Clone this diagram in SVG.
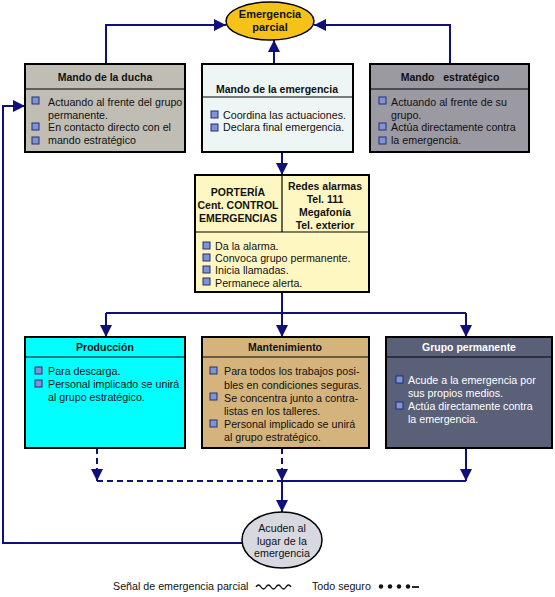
<svg xmlns="http://www.w3.org/2000/svg" width="555" height="597" viewBox="0 0 555 597">
<style>
text{font-family:"Liberation Sans",Arial,sans-serif;font-size:10.7px;fill:#111}
.t{font-weight:bold;text-anchor:middle;font-size:10.5px}
.e{font-size:11px}
.w{fill:#fff}
.box{stroke:#000;stroke-width:2}
.hl{stroke:#000;stroke-width:1.2}
.c{fill:none;stroke:#10107a;stroke-width:2}
.d{stroke-dasharray:6,4}
.b{fill:#7b96d6;stroke:#2a2a70;stroke-width:1}
</style>
<defs>
<marker id="a" markerUnits="userSpaceOnUse" markerWidth="12" markerHeight="12" viewBox="0 0 12 12" refX="12" refY="6" orient="auto">
<path d="M0,0 L12,6 L0,12 z" fill="#10107a"/>
</marker>
</defs>
<rect width="555" height="597" fill="#fff"/>
<g id="connectors">
<path class="c" d="M106,64 V25 H226" marker-end="url(#a)"/>
<path class="c" d="M450,64 V25 H314" marker-end="url(#a)"/>
<path class="c" d="M274,64 V40" marker-end="url(#a)"/>
<path class="c" d="M282,152 V175" marker-end="url(#a)"/>
<path class="c" d="M282,292 V313 M106,313 H466"/>
<path class="c" d="M106,313 V337" marker-end="url(#a)"/>
<path class="c" d="M282,313 V337" marker-end="url(#a)"/>
<path class="c" d="M466,313 V337" marker-end="url(#a)"/>
<path class="c d" d="M97,448 V481" marker-end="url(#a)"/>
<path class="c d" d="M282,448 V481" marker-end="url(#a)"/>
<path class="c" d="M466,448 V481" marker-end="url(#a)"/>
<path class="c d" d="M97,481 H282"/>
<path class="c" d="M282,481 H466"/>
<path class="c" d="M282,481 V512" marker-end="url(#a)"/>
<path class="c" d="M242,543 H3 V106 H25" marker-end="url(#a)"/>
</g>
<g id="emergencia-parcial">
<ellipse cx="270" cy="21" rx="44" ry="19" fill="#f6c21a" stroke="#000" stroke-width="1.5"/>
<text class="t e" x="270" y="18">Emergencia</text>
<text class="t e" x="270" y="31">parcial</text>
</g>
<g id="mando-ducha">
<rect class="box" x="25" y="64" width="160" height="88" fill="#c0bdb5"/>
<line class="hl" x1="25" y1="89" x2="185" y2="89"/>
<text class="t" x="105" y="81">Mando de la ducha</text>
<rect class="b" x="32" y="97" width="7" height="7"/><text x="48" y="106">Actuando al frente del grupo</text>
<text x="48" y="119">permanente.</text>
<rect class="b" x="32" y="123" width="7" height="7"/><text x="48" y="131">En contacto directo con el</text>
<rect class="b" x="32" y="137" width="7" height="7"/><text x="48" y="144">mando estratégico</text>
</g>
<g id="mando-emergencia">
<rect class="box" x="202" y="64" width="151" height="88" fill="#eef5f5"/>
<line class="hl" x1="202" y1="97" x2="353" y2="97"/>
<text class="t" x="277" y="93">Mando de la emergencia</text>
<rect class="b" x="211" y="111" width="7" height="7"/><text x="223" y="119">Coordina las actuaciones.</text>
<rect class="b" x="211" y="124" width="7" height="7"/><text x="223" y="131">Declara final emergencia.</text>
</g>
<g id="mando-estrategico">
<rect class="box" x="370" y="64" width="159" height="88" fill="#9b99a1"/>
<line class="hl" x1="370" y1="89" x2="529" y2="89"/>
<text class="t" x="450" y="81" xml:space="preserve">Mando   estratégico</text>
<rect class="b" x="379" y="97" width="7" height="7"/><text x="391" y="106">Actuando al frente de su</text>
<text x="391" y="119">grupo.</text>
<rect class="b" x="379" y="123" width="7" height="7"/><text x="391" y="131">Actúa directamente contra</text>
<rect class="b" x="379" y="137" width="7" height="7"/><text x="391" y="144">la emergencia.</text>
</g>
<g id="porteria">
<rect class="box" x="195" y="175" width="174" height="117" fill="#fff7c2"/>
<line class="hl" x1="195" y1="232" x2="369" y2="232"/>
<line class="hl" x1="282" y1="175" x2="282" y2="232"/>
<text class="t" x="238" y="196">PORTERÍA</text>
<text class="t" x="238" y="209">Cent. CONTROL</text>
<text class="t" x="238" y="222">EMERGENCIAS</text>
<text class="t" x="325" y="190">Redes alarmas</text>
<text class="t" x="325" y="203">Tel. 111</text>
<text class="t" x="325" y="216">Megafonía</text>
<text class="t" x="325" y="229">Tel. exterior</text>
<rect class="b" x="203" y="242" width="7" height="7"/><text x="215" y="250">Da la alarma.</text>
<rect class="b" x="203" y="254" width="7" height="7"/><text x="215" y="262">Convoca grupo permanente.</text>
<rect class="b" x="203" y="266" width="7" height="7"/><text x="215" y="274">Inicia llamadas.</text>
<rect class="b" x="203" y="278" width="7" height="7"/><text x="215" y="287">Permanece alerta.</text>
</g>
<g id="produccion">
<rect class="box" x="25" y="337" width="160" height="111" fill="#00ffff"/>
<line class="hl" x1="25" y1="357" x2="185" y2="357"/>
<text class="t" x="105" y="351">Producción</text>
<rect class="b" x="35" y="367" width="7" height="7"/><text x="48" y="375">Para descarga.</text>
<rect class="b" x="35" y="380" width="7" height="7"/><text x="48" y="388">Personal implicado se unirá</text>
<text x="48" y="401">al grupo estratégico.</text>
</g>
<g id="mantenimiento">
<rect class="box" x="202" y="337" width="167" height="111" fill="#d4b47c"/>
<line class="hl" x1="202" y1="357" x2="369" y2="357"/>
<text class="t" x="285" y="351">Mantenimiento</text>
<rect class="b" x="210" y="367" width="7" height="7"/><text x="224" y="375">Para todos los trabajos posi-</text>
<text x="224" y="389">bles en condiciones seguras.</text>
<rect class="b" x="210" y="393" width="7" height="7"/><text x="224" y="402">Se concentra junto a contra-</text>
<text x="224" y="415">listas en los talleres.</text>
<rect class="b" x="210" y="420" width="7" height="7"/><text x="224" y="428">Personal implicado se unirá</text>
<text x="224" y="441">al grupo estratégico.</text>
</g>
<g id="grupo-permanente">
<rect class="box" x="386" y="337" width="166" height="111" fill="#5a6078"/>
<line class="hl" x1="386" y1="357" x2="552" y2="357"/>
<text class="t w" x="469" y="351">Grupo permanente</text>
<rect class="b" x="396" y="376" width="7" height="7"/><text class="w" x="408" y="384">Acude a la emergencia por</text>
<text class="w" x="408" y="397">sus propios medios.</text>
<rect class="b" x="396" y="402" width="7" height="7"/><text class="w" x="408" y="410">Actúa directamente contra</text>
<text class="w" x="408" y="423">la emergencia.</text>
</g>
<g id="acuden">
<ellipse cx="282" cy="540" rx="40" ry="28" fill="#d8d8e0" stroke="#000" stroke-width="1.5"/>
<text x="282" y="532" text-anchor="middle">Acuden al</text>
<text x="282" y="545" text-anchor="middle">lugar de la</text>
<text x="282" y="557" text-anchor="middle">emergencia</text>
</g>
<g id="legend">
<text x="113" y="590">Señal de emergencia parcial</text>
<path d="M256,587 q2.5,-4 5,0 t5,0 t5,0 t5,0 t5,0 t5,0 t5,0" fill="none" stroke="#111" stroke-width="1.3"/>
<text x="312" y="590">Todo seguro</text>
<circle cx="381" cy="586.5" r="2.2" fill="#111"/>
<circle cx="390" cy="586.5" r="2.2" fill="#111"/>
<circle cx="399" cy="586.5" r="2.2" fill="#111"/>
<circle cx="408" cy="586.5" r="2.2" fill="#111"/>
<line x1="412" y1="587" x2="419" y2="587" stroke="#111" stroke-width="1.8"/>
</g>
</svg>
